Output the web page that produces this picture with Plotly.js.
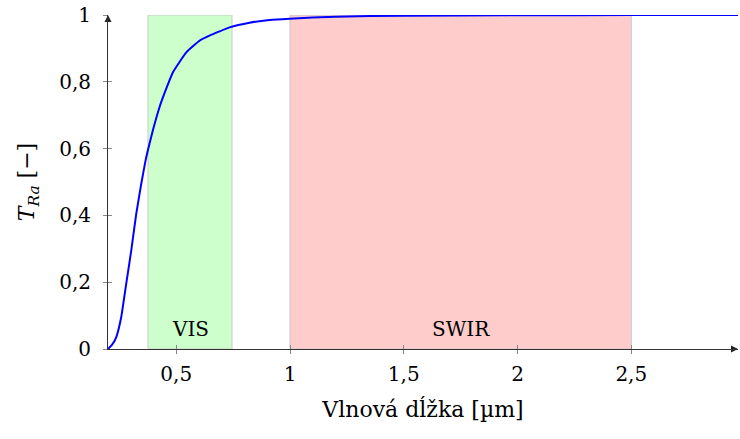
<!DOCTYPE html>
<html><head><meta charset="utf-8">
<script src="https://cdn.plot.ly/plotly-3.0.1.min.js"></script>
<style>html,body{margin:0;padding:0;background:#fff}#plot{width:740px;height:439px}</style>
</head><body><div id="plot"></div>
<script>
const wavelength = [0.2, 0.218, 0.236, 0.258, 0.28, 0.302, 0.324, 0.346, 0.365, 0.375, 0.397, 0.426, 0.453, 0.485, 0.544, 0.602, 0.646, 0.687, 0.734, 0.822, 0.91, 0.998, 1.2, 1.5, 2.0, 2.5, 2.969];
const transmittance = [0, 0.013, 0.035, 0.095, 0.195, 0.294, 0.404, 0.494, 0.564, 0.594, 0.654, 0.723, 0.774, 0.828, 0.888, 0.923, 0.938, 0.95, 0.963, 0.977, 0.985, 0.989, 0.995, 0.998, 0.999, 1.0, 1.0];
const bandLabels = ['VIS', 'SWIR'];
const bandStart = [0.376, 1.0];
const bandEnd = [0.745, 2.5];
const bandFill = ['rgb(204,255,204)', 'rgb(255,204,204)'];
const xTickVals = [0.5, 1, 1.5, 2, 2.5];
const xTickText = ['0,5', '1', '1,5', '2', '2,5'];
const yTickVals = [0, 0.2, 0.4, 0.6, 0.8, 1];
const yTickText = ['0', '0,2', '0,4', '0,6', '0,8', '1'];

const FONT = 'DejaVu Serif';
const FS = 20;
const FT = 22;
const xRange = [0.2, 2.969];
const yRange = [0, 1];

const shapes = bandLabels.map((n, i) => ({
  type: 'rect', xref: 'x', yref: 'y', x0: bandStart[i], x1: bandEnd[i], y0: 0, y1: 1,
  fillcolor: bandFill[i], line: {color: 'rgb(200,200,200)', width: 1}, layer: 'below'
}));
const annotations = bandLabels.map((n, i) => ({
  xref: 'x', yref: 'y', x: (bandStart[i] + bandEnd[i]) / 2, y: 0.06, text: n,
  showarrow: false, font: {family: FONT, size: FS, color: '#000'}
}));

const data = [{
  x: wavelength, y: transmittance, type: 'scatter', mode: 'lines',
  line: {color: '#0000ff', width: 2, shape: 'spline', smoothing: 0.4},
  hoverinfo: 'skip', cliponaxis: false
}, {
  x: [xRange[1], xRange[0]], y: [yRange[0], yRange[1]], type: 'scatter', mode: 'markers',
  marker: {symbol: ['arrow-right', 'arrow-up'], size: 7, color: '#222', line: {width: 0}},
  hoverinfo: 'skip', cliponaxis: false
}, {
  x: [xRange[0]], y: [0], xaxis: 'x2', yaxis: 'y2', mode: 'markers', marker: {opacity: 0}, hoverinfo: 'skip'
}];

const layout = {
  width: 740, height: 439,
  margin: {l: 108, r: 2, t: 15, b: 90},
  paper_bgcolor: '#fff', plot_bgcolor: 'rgba(0,0,0,0)',
  showlegend: false,
  font: {family: FONT, size: FS, color: '#000'},
  xaxis: {range: xRange, tickmode: 'array', tickvals: xTickVals, ticktext: xTickText,
    ticks: 'outside', ticklen: 4, tickcolor: '#888', tickwidth: 1,
    showline: true, linecolor: '#333', linewidth: 1, showgrid: false, zeroline: false,
    tickfont: {family: FONT, size: FS}, ticklabelstandoff: 3,
    title: {text: 'Vlnová dĺžka [µm]', font: {family: FONT, size: FT}, standoff: 16}},
  yaxis: {range: yRange, tickmode: 'array', tickvals: yTickVals, ticktext: yTickText,
    ticks: 'outside', ticklen: 4, tickcolor: '#888', tickwidth: 1,
    showline: true, linecolor: '#333', linewidth: 1, showgrid: false, zeroline: false,
    tickfont: {family: FONT, size: FS}, ticklabelstandoff: 8,
    title: {text: '<i>T</i><sub><i>Ra</i></sub> [−]', font: {family: FONT, size: FT}, standoff: 18}},
  xaxis2: {range: xRange, overlaying: 'x', anchor: 'y2', tickmode: 'array', tickvals: xTickVals,
    ticks: 'inside', ticklen: 4, tickcolor: '#888', showticklabels: false, showgrid: false, zeroline: false, showline: false},
  yaxis2: {range: yRange, overlaying: 'y', anchor: 'x2', tickmode: 'array', tickvals: yTickVals,
    ticks: 'inside', ticklen: 4, tickcolor: '#888', showticklabels: false, showgrid: false, zeroline: false, showline: false},
  shapes: shapes, annotations: annotations
};
Plotly.newPlot('plot', data, layout, {displayModeBar: false, staticPlot: true});
</script></body></html>
